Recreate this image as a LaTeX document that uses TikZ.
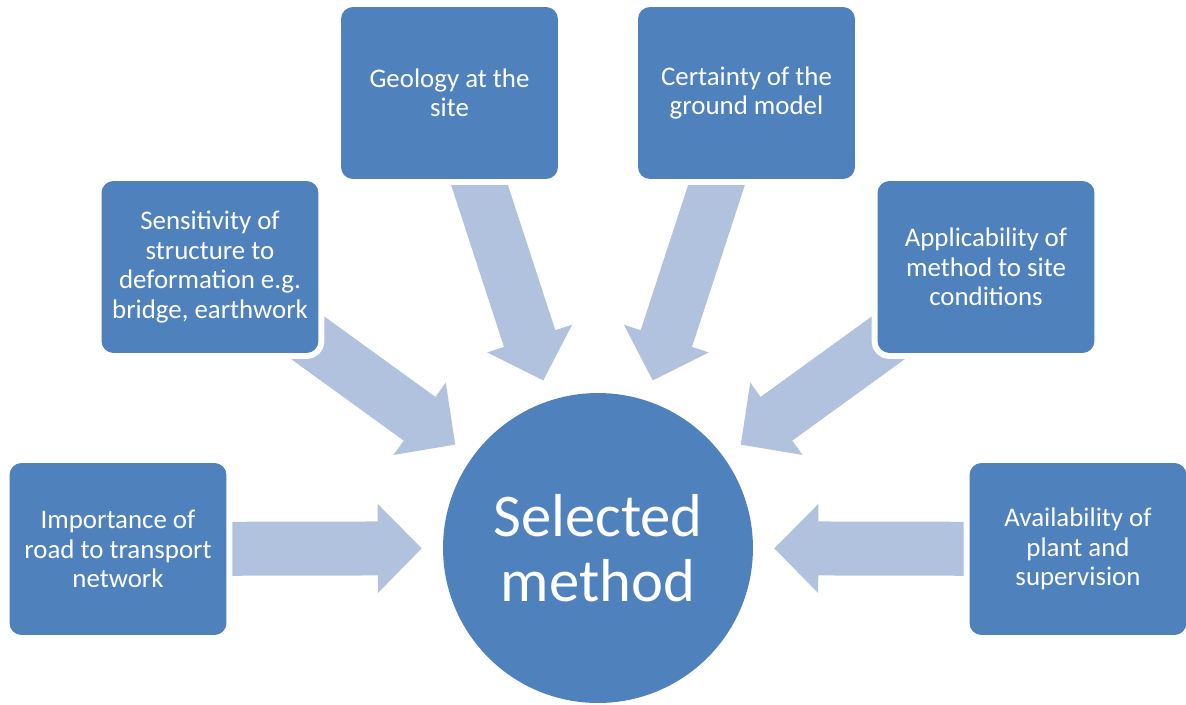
\documentclass[tikz,border=0pt]{standalone}
\usepackage{fontspec}
\setmainfont{Carlito}
\usetikzlibrary{arrows.meta,backgrounds}
\definecolor{fcBoxFill}{HTML}{4F81BD}
\definecolor{fcArrowFill}{HTML}{B0C2DE}
\tikzset{
  factor node/.style={
    rectangle, rounded corners=0.24cm, fill=fcBoxFill,
    preaction={draw=white, line width=0.24cm},   % white rim over the arrows
    minimum width=4.34cm, minimum height=3.44cm,
    align=center, text=white, inner sep=0pt,
    font=\fontsize{15.3}{16.8}\selectfont,
  },
  method node/.style={
    circle, fill=fcBoxFill, minimum size=6.2cm,
    align=center, text=white, inner sep=0pt,
    font=\fontsize{34.5}{37}\selectfont,
  },
  factor arrow/.style={
    line width=1.08cm, color=fcArrowFill,
    -{Triangle[length=0.88cm, width=1.78cm, line width=1pt]},
    shorten >=0.42cm,
  },
}

\begin{document}
\begin{tikzpicture}[x=0.02cm, y=-0.02cm]

\useasboundingbox (0,0) rectangle (1186,704);

% Centre
\node[method node] (sel) at (598,548) {Selected\\method};

% Factors around it
\node[factor node] (f1) at (118,549)  {Importance of\\road to transport\\network};
\node[factor node] (f2) at (210,267)  {Sensitivity of\\structure to\\deformation e.g.\\bridge, earthwork};
\node[factor node] (f3) at (449.5,93) {Geology at the\\site};
\node[factor node] (f4) at (746.5,93) {Certainty of the\\ground model};
\node[factor node] (f5) at (986,267)  {Applicability of\\method to site\\conditions};
\node[factor node] (f6) at (1078,549) {Availability of\\plant and\\supervision};

% Arrows run under the boxes
\begin{pgfonlayer}{background}
  \foreach \i in {1,...,6} {
    \draw[factor arrow] (f\i.center) -- (sel);
  }
\end{pgfonlayer}

\end{tikzpicture}
\end{document}
